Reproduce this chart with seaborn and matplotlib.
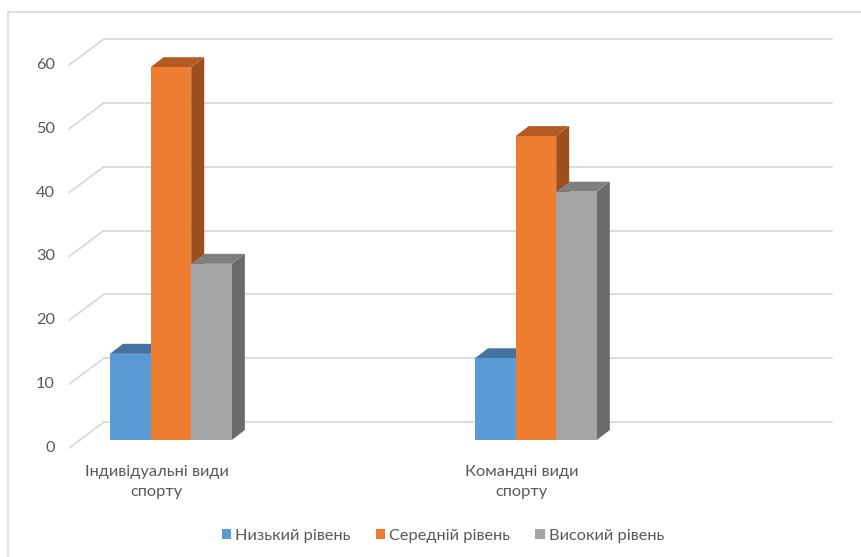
import numpy as np
import pandas as pd
import seaborn as sns
import matplotlib
matplotlib.use("Agg")
import matplotlib.pyplot as plt
from matplotlib.patches import Polygon, Patch
from matplotlib.lines import Line2D

# ---- data ----
categories = ["Індивідуальні види\nспорту", "Командні види\nспорту"]
series = ["Низький рівень", "Середній рівень", "Високий рівень"]
low_vals = [13.5, 12.8]
mid_vals = [58.4, 47.6]
high_vals = [27.6, 38.9]
y_ticks = [0, 10, 20, 30, 40, 50, 60]

front_colors = ["#5B9BD5", "#ED7D31", "#A5A5A5"]
top_colors = ["#44739F", "#B35B22", "#7F7F7F"]
side_colors = ["#3D6A94", "#9B4F1D", "#6B6B6B"]

df = pd.DataFrame({
    "cat": categories * 3,
    "series": [series[0]] * 2 + [series[1]] * 2 + [series[2]] * 2,
    "value": low_vals + mid_vals + high_vals,
})

sns.set_theme(style="white")
plt.rcParams["font.family"] = ["Lato", "DejaVu Sans"]
TXT = "#595959"
GRID = "#D9D9D9"
FS = 11.8

W, H = 862, 557
fig = plt.figure(figsize=(W / 100, H / 100), dpi=100)
# axes = front plane of bars
ax_l, ax_r, ax_b, ax_t = 80, 808, 440, 57
ax = fig.add_axes([ax_l / W, 1 - ax_b / H, (ax_r - ax_l) / W, (ax_b - ax_t) / H])

sns.barplot(data=df, x="cat", y="value", hue="series", hue_order=series,
            order=categories, palette=front_colors, width=0.334, ax=ax,
            saturation=1, legend=False, errorbar=None, linewidth=0)

xlim = (-0.249, -0.249 + (ax_r - ax_l) / 365.0)
ylim = (0, 60)
ax.set_xlim(*xlim)
ax.set_ylim(*ylim)
ax.axis("off")

# px -> data unit conversions
ux = (xlim[1] - xlim[0]) / (ax_r - ax_l)
uy = (ylim[1] - ylim[0]) / (ax_b - ax_t)

# back wall gridlines (offset +24px right, 18px up); front edge (-11px, 8px down)
bx, by = 24, -18
fx, fy = -11, 8
for v in y_ticks:
    ax.plot([xlim[0] + bx * ux, xlim[1] + bx * ux], [v - by * uy, v - by * uy],
            color=GRID, lw=1.3, clip_on=False, zorder=0.5)
    ax.plot([xlim[0] + fx * ux, xlim[0] + bx * ux], [v - fy * uy, v - by * uy],
            color=GRID, lw=1.3, clip_on=False, zorder=0.5)
    ax.text(xlim[0] + fx * ux - 14 * ux, v - fy * uy, str(v), ha="right",
            va="center", fontsize=FS, color=TXT)

# 3D extrusion of bars
ddx, ddy = 13 * ux, 10 * uy
bars = [p for p in ax.patches]
n_cat = len(categories)
z = 1.0
items = []
for i, p in enumerate(bars):
    s_idx = i // n_cat
    items.append((p.get_x(), p, s_idx))
items.sort(key=lambda t: t[0])
for x0, p, s_idx in items:
    w = p.get_width()
    h = p.get_height()
    side = Polygon([(x0 + w, 0), (x0 + w, h), (x0 + w + ddx, h + ddy), (x0 + w + ddx, ddy)],
                   closed=True, facecolor=side_colors[s_idx], edgecolor="none",
                   zorder=z, clip_on=False)
    top = Polygon([(x0, h), (x0 + w, h), (x0 + w + ddx, h + ddy), (x0 + ddx, h + ddy)],
                  closed=True, facecolor=top_colors[s_idx], edgecolor="none",
                  zorder=z + 0.1, clip_on=False)
    ax.add_patch(side)
    ax.add_patch(top)
    p.set_zorder(z + 0.2)
    p.set_clip_on(False)
    z += 1

# category labels (front plane)
for i, c in enumerate(categories):
    ax.text(i + fx * ux - 3 * ux, -42 * uy, c, ha="center", va="center",
            fontsize=FS, color=TXT, linespacing=1.55)

# legend
handles = [Patch(facecolor=c, edgecolor="none") for c in front_colors]
leg = fig.legend(handles, series, loc="center", bbox_to_anchor=(443 / W, 1 - 536 / H),
                 ncol=3, frameon=False, fontsize=FS, handlelength=0.6,
                 handleheight=0.6, handletextpad=0.25, columnspacing=1.5,
                 labelcolor=TXT)

# chart border (left and top visible)
fig.add_artist(Line2D([8.5 / W, 8.5 / W], [0, 1 - 12 / H], color=GRID, lw=1.2))
fig.add_artist(Line2D([8.5 / W, 1], [1 - 12 / H, 1 - 12 / H], color=GRID, lw=1.2))

fig.savefig("out.png", dpi=100, facecolor="white")
